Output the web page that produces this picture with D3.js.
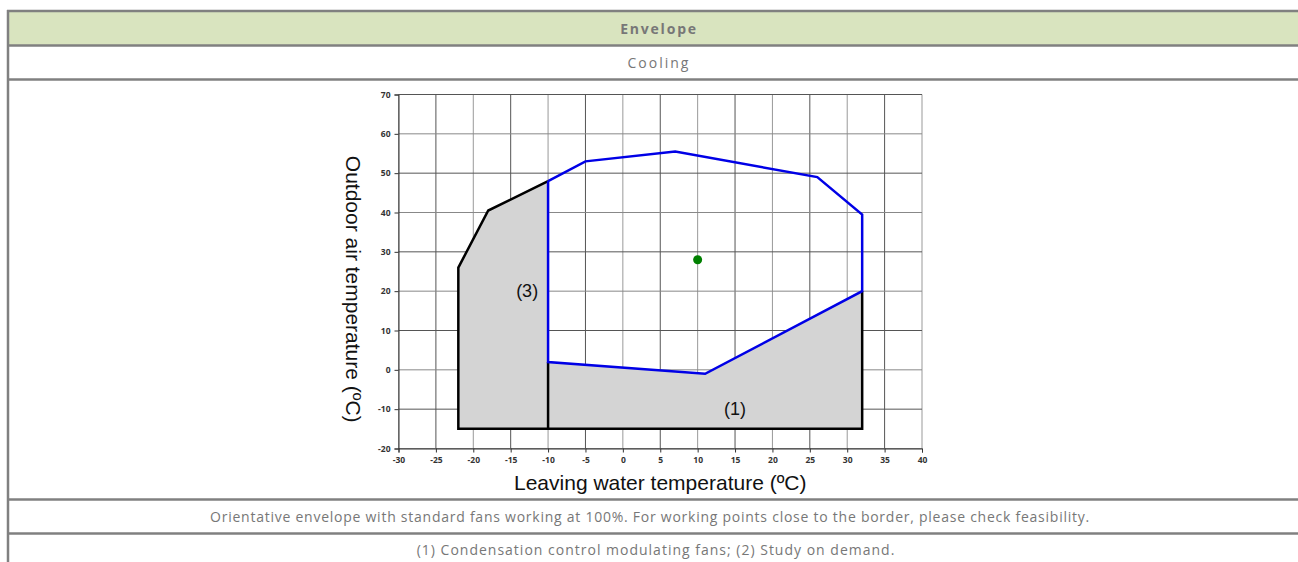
<!DOCTYPE html>
<html>
<head>
<meta charset='utf-8'>
<script src='https://d3js.org/d3.v7.min.js'></script>
<style>
    body { margin: 0; background: #fff; }
    .cell-text { font-family: "Open Sans", sans-serif; fill: #777; font-size: 14px; }
    .tick text { font-family: "Open Sans", Arial, sans-serif; font-weight: bold; font-size: 8.5px; fill: #333; }
    .grid line { stroke-width: 1; }
</style>
</head>
<body>
<svg id='page' width='1298' height='562'></svg>
<script>
    // table texts
    const header = 'Envelope';
    const mode = 'Cooling';
    const notes = ['Orientative envelope with standard fans working at 100%. For working points close to the border, please check feasibility.',
                   '(1) Condensation control modulating fans; (2) Study on demand.'];

    // chart data: [leaving water °C, outdoor air °C]
    const xTicks = [-30, -25, -20, -15, -10, -5, 0, 5, 10, 15, 20, 25, 30, 35, 40];
    const yTicks = [-20, -10, 0, 10, 20, 30, 40, 50, 60, 70];
    const envelope = [[-10, 48], [-5, 53], [7, 55.5], [26, 49], [32, 39.5], [32, 20], [11, -1], [-10, 2], [-10, 48]];
    const zone3 = [[-10, 48], [-18, 40.5], [-22, 26], [-22, -15], [-10, -15]];
    const zone1 = [[-10, -15], [-10, 2], [11, -1], [32, 20], [32, -15]];
    const blackEdge = [[-10, 48], [-18, 40.5], [-22, 26], [-22, -15], [32, -15], [32, 20]];
    const blackDivider = [[-10, 2], [-10, -15]];
    const point = [10, 28];
    const zoneLabels = [{ t: '(3)', at: [-12.8, 20] }, { t: '(1)', at: [15, -10] }];

    const svg = d3.select('#page');

    // table
    const rows = [11, 45.5, 79.5, 499.5, 533.5];
    svg.append('rect').attr('x', 8).attr('y', 11).attr('width', 1300).attr('height', 34.5).attr('fill', '#d9e4bf');
    rows.forEach(y => svg.append('line').attr('x1', 7).attr('x2', 1298).attr('y1', y).attr('y2', y)
        .attr('stroke', '#808080').attr('stroke-width', 2.5));
    svg.append('line').attr('x1', 8).attr('x2', 8).attr('y1', 10).attr('y2', 562)
        .attr('stroke', '#808080').attr('stroke-width', 2.5);

    const cx = 656;
    svg.append('text').attr('class', 'cell-text').attr('x', cx + 3).attr('y', 34).attr('text-anchor', 'middle')
        .attr('font-weight', 'bold').style('letter-spacing', '1.8px').text(header);
    svg.append('text').attr('class', 'cell-text').attr('x', cx + 3).attr('y', 68).attr('text-anchor', 'middle')
        .style('letter-spacing', '2px').text(mode);
    svg.append('text').attr('class', 'cell-text').attr('x', cx - 6).attr('y', 522).attr('text-anchor', 'middle')
        .style('letter-spacing', '0.75px').text(notes[0]);
    svg.append('text').attr('class', 'cell-text').attr('x', cx).attr('y', 555).attr('text-anchor', 'middle')
        .style('letter-spacing', '1px').text(notes[1]);

    // chart
    const x = d3.scaleLinear().domain([-30, 40]).range([398.5, 922]);
    const y = d3.scaleLinear().domain([-20, 70]).range([448.5, 94.5]);
    const g = svg.append('g');

    const grid = g.append('g').attr('class', 'grid');
    grid.selectAll('.vx').data(xTicks).join('line')
        .attr('x1', d => x(d)).attr('x2', d => x(d)).attr('y1', y(-20)).attr('y2', y(70))
        .attr('stroke', (d, i) => i % 2 ? '#555' : '#999');
    grid.selectAll('.hy').data(yTicks).join('line')
        .attr('x1', x(-30)).attr('x2', x(40)).attr('y1', d => y(d)).attr('y2', d => y(d))
        .attr('stroke', (d, i) => i % 2 ? '#555' : '#888');

    const line = d3.line().x(d => x(d[0])).y(d => y(d[1]));
    g.append('path').attr('d', line(zone3) + 'Z').attr('fill', '#d4d4d4');
    g.append('path').attr('d', line(zone1) + 'Z').attr('fill', '#d4d4d4');
    g.append('path').attr('d', line(blackEdge)).attr('fill', 'none').attr('stroke', '#000').attr('stroke-width', 2.5);
    g.append('path').attr('d', line(blackDivider)).attr('fill', 'none').attr('stroke', '#000').attr('stroke-width', 2.5);
    g.append('path').attr('d', line(envelope)).attr('fill', 'none').attr('stroke', '#0000e6').attr('stroke-width', 2.5);
    g.append('circle').attr('cx', x(point[0])).attr('cy', y(point[1])).attr('r', 4.5).attr('fill', '#008000');

    g.selectAll('.zl').data(zoneLabels).join('text')
        .attr('x', d => x(d.at[0])).attr('y', d => y(d.at[1]))
        .attr('text-anchor', 'middle').attr('dominant-baseline', 'central')
        .attr('font-family', 'Liberation Sans, Arial, sans-serif').attr('font-size', 18).attr('fill', '#111')
        .text(d => d.t);

    const xAxis = g.append('g').attr('transform', `translate(0,${y(-20)})`)
        .call(d3.axisBottom(x).tickValues(xTicks).tickFormat(d => String(d)).tickSize(4).tickPadding(4));
    const yAxis = g.append('g').attr('transform', `translate(${x(-30)},0)`)
        .call(d3.axisLeft(y).tickValues(yTicks).tickFormat(d => String(d)).tickSize(4).tickPadding(4));
    [xAxis, yAxis].forEach(a => {
        a.select('.domain').attr('stroke', '#333');
        a.selectAll('.tick line').attr('stroke', '#333');
    });

    g.append('text').attr('x', x(5)).attr('y', 490).attr('text-anchor', 'middle')
        .attr('font-family', 'Liberation Sans, Arial, sans-serif').attr('font-size', 21).attr('fill', '#111')
        .text('Leaving water temperature (ºC)');
    g.append('text').attr('transform', `translate(346,${y(20.5)}) rotate(90)`).attr('text-anchor', 'middle')
        .attr('font-family', 'Liberation Sans, Arial, sans-serif').attr('font-size', 21).attr('fill', '#111')
        .text('Outdoor air temperature (ºC)');
</script>
</body>
</html>
